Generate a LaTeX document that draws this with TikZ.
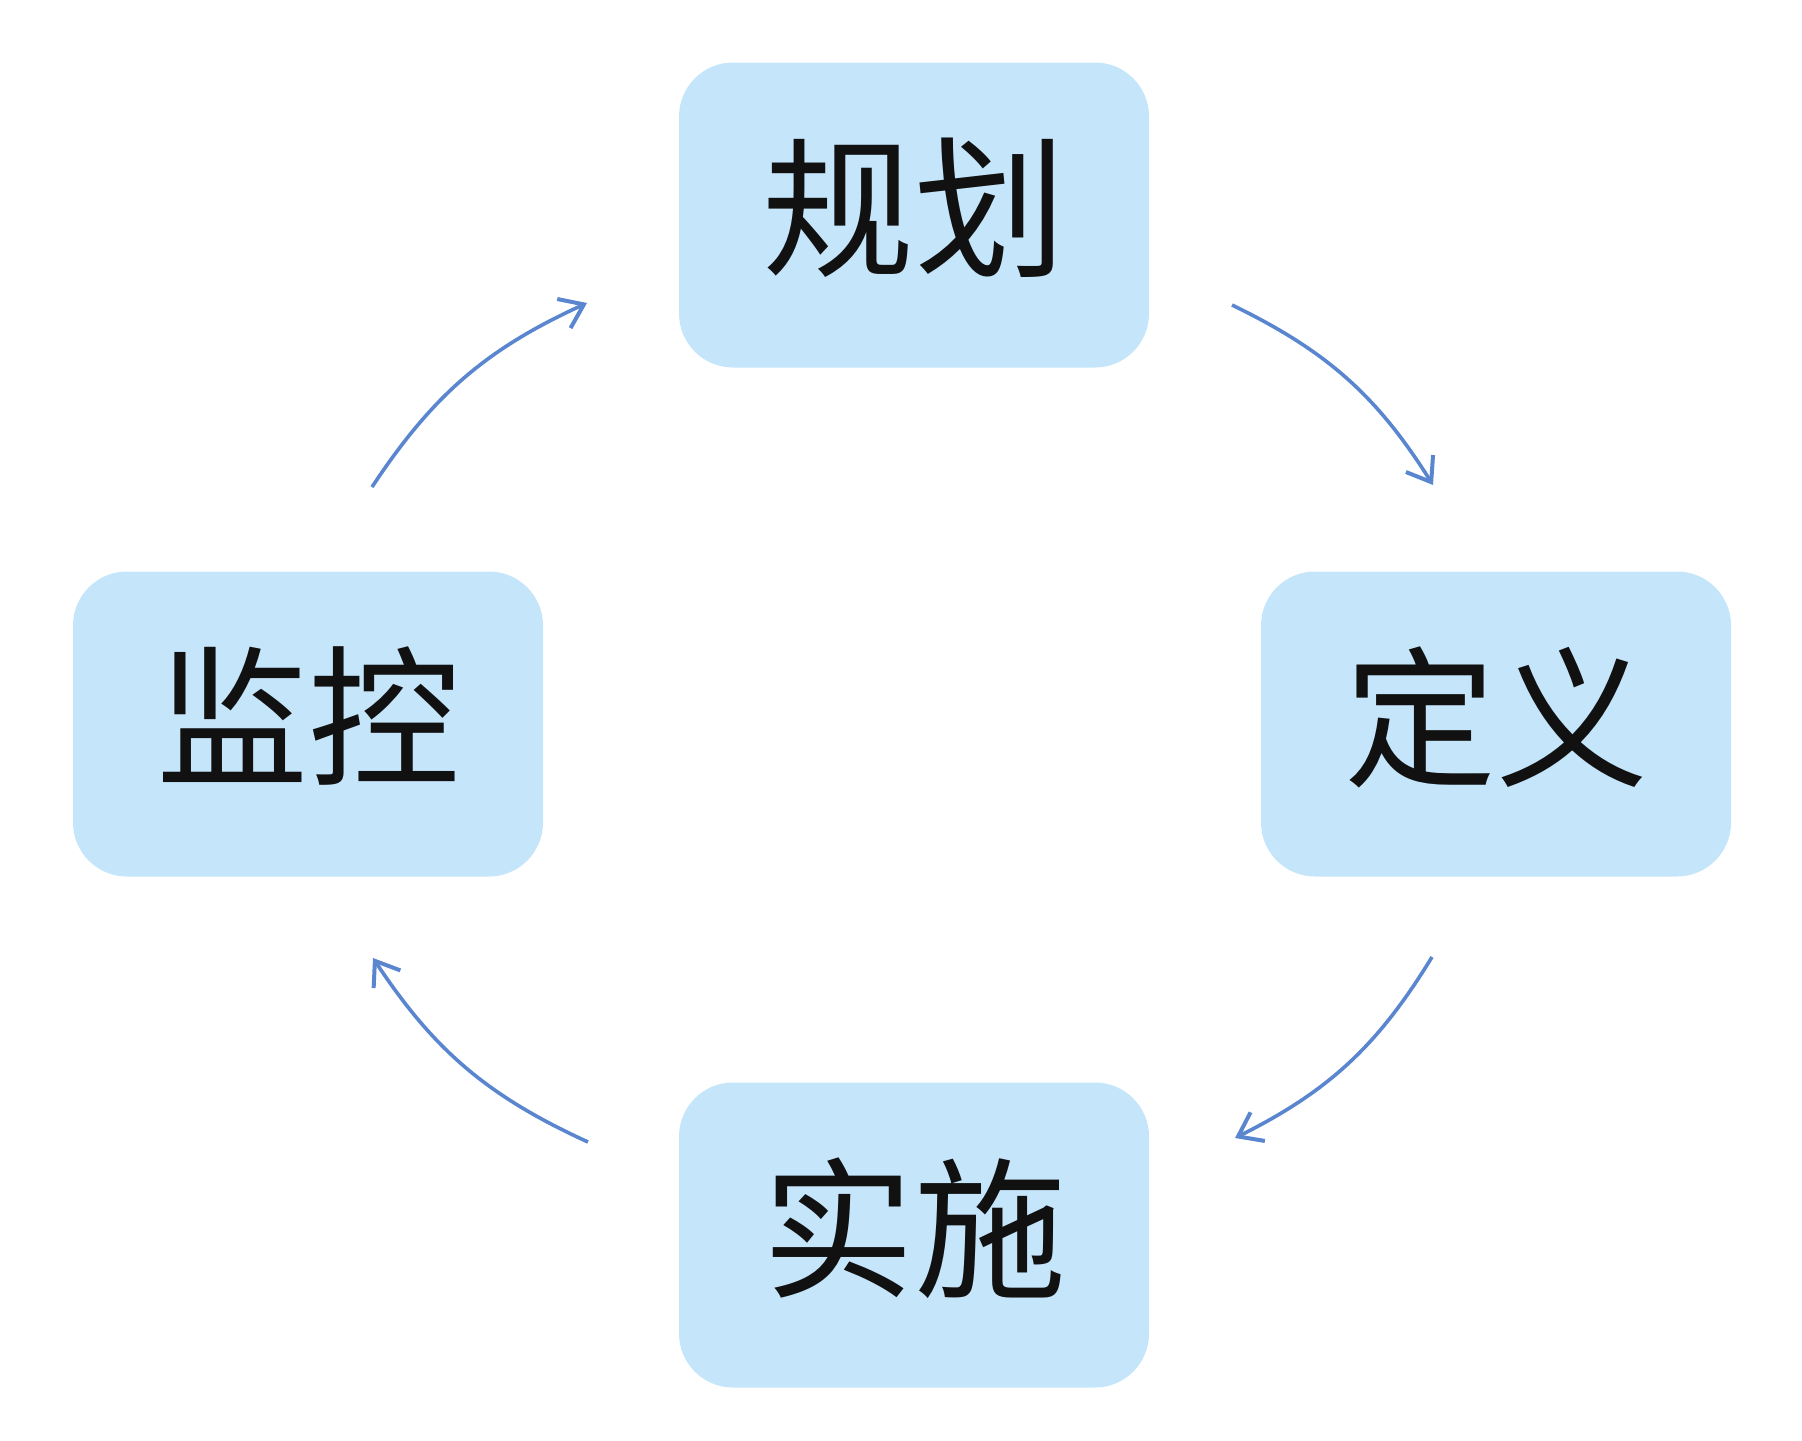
\documentclass[tikz,border=0pt]{standalone}
\usepackage{fontspec}
\newfontfamily\cjk{Noto Sans CJK SC}
\usetikzlibrary{arrows.meta}
\definecolor{boxfill}{HTML}{C5E5FB}
\definecolor{arrowblue}{HTML}{5A86D0}
\definecolor{txt}{HTML}{111111}
\tikzset{
  stage/.style={rounded corners=27pt, fill=boxfill, draw=none,
    minimum width=235pt, minimum height=152.5pt, inner sep=0pt,
    text=txt, font=\cjk\fontsize{76}{80}\selectfont},
  flow/.style={draw=arrowblue, line width=1.8pt, bend left=16,
    -{Straight Barb[length=11pt,width=16pt,line width=2pt]}}
}
\newcommand{\up}[1]{\raisebox{13pt}{#1}}
\begin{document}
\begin{tikzpicture}[x=0.5pt,y=-0.5pt]
  \useasboundingbox (0,0) rectangle (1802,1440);
  \node[stage] (plan)    at (914,215)  {\up{规划}};
  \node[stage] (define)  at (1496,724) {\up{定义}};
  \node[stage] (execute) at (914,1235) {\up{实施}};
  \node[stage] (monitor) at (308,724)  {\up{监控}};
  \coordinate (a1s) at (1232,305);
  \coordinate (a1e) at (1433,485);
  \coordinate (a2s) at (1432,957);
  \coordinate (a2e) at (1235,1138);
  \coordinate (a3s) at (588,1142);
  \coordinate (a3e) at (373,958);
  \coordinate (a4s) at (372,487);
  \coordinate (a4e) at (587,303);
  \draw[flow] (a1s) to (a1e);
  \draw[flow] (a2s) to (a2e);
  \draw[flow] (a3s) to (a3e);
  \draw[flow] (a4s) to (a4e);
\end{tikzpicture}
\end{document}
